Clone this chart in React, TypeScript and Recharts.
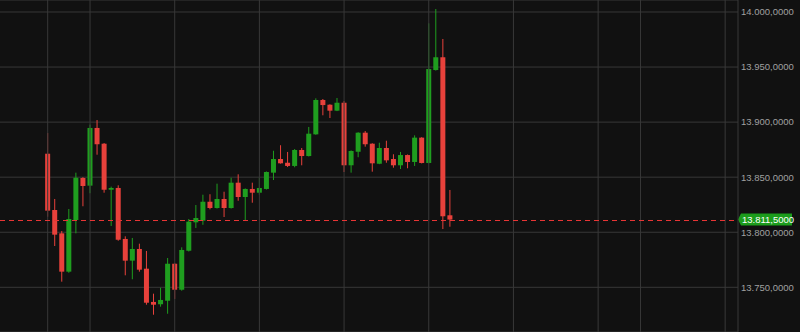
import React from "react";
import {
  ComposedChart,
  Bar,
  XAxis,
  YAxis,
  CartesianGrid,
  ReferenceLine,
} from "recharts";

// OHLC values per candle (index = candle number)
const opens = [
  13871.3, 13820.2, 13799.0, 13764.2, 13811.1, 13849.3, 13842.3, 13894.7, 13880.4, 13838.6,
  13840.2, 13793.9, 13774.2, 13784.8, 13766.9, 13736.7, 13734.6, 13737.8, 13771.4, 13747.8,
  13783.2, 13809.0, 13810.5, 13827.7, 13822.0, 13830.2, 13822.0, 13845.0, 13832.0, 13839.3,
  13835.9, 13839.3, 13854.1, 13866.5, 13863.1, 13860.2, 13874.7, 13869.2, 13888.9, 13920.1,
  13915.8, 13910.4, 13917.6, 13860.8, 13873.1, 13890.4, 13880.4, 13862.2, 13876.5, 13866.5,
  13860.8, 13870.1, 13863.8, 13885.9, 13862.9, 13947.3, 13958.9, 13815.4,
];
const highs = [
  13890.1, 13830.2, 13801.1, 13821.1, 13854.1, 13850.0, 13897.7, 13901.9, 13881.0, 13841.4,
  13842.6, 13796.3, 13794.8, 13789.6, 13783.0, 13744.2, 13749.6, 13776.6, 13772.0, 13786.3,
  13812.0, 13824.7, 13834.1, 13834.5, 13844.1, 13836.8, 13849.5, 13852.6, 13839.8, 13845.0,
  13849.5, 13855.2, 13874.0, 13879.0, 13872.9, 13875.6, 13876.5, 13895.6, 13921.6, 13921.0,
  13916.2, 13921.9, 13919.2, 13874.3, 13890.8, 13891.9, 13880.8, 13881.3, 13883.1, 13870.8,
  13872.9, 13870.6, 13888.0, 13886.3, 13989.7, 14002.7, 13975.5, 13838.4,
];
const lows = [
  13814.1, 13787.5, 13755.1, 13763.2, 13799.0, 13823.6, 13835.4, 13870.4, 13835.9, 13805.7,
  13792.3, 13760.9, 13757.3, 13764.2, 13734.2, 13725.1, 13732.4, 13726.0, 13739.4, 13746.9,
  13782.5, 13803.9, 13806.8, 13820.8, 13821.5, 13813.8, 13821.5, 13828.6, 13811.1, 13826.8,
  13834.1, 13838.8, 13847.4, 13862.3, 13859.2, 13859.0, 13860.8, 13868.8, 13888.5, 13906.2,
  13903.7, 13910.0, 13854.7, 13854.1, 13868.1, 13877.7, 13855.0, 13861.8, 13863.1, 13858.6,
  13857.4, 13858.1, 13860.2, 13862.5, 13862.5, 13946.8, 13802.9, 13805.0,
];
const closes = [
  13819.6, 13797.8, 13764.2, 13812.0, 13849.5, 13842.0, 13894.7, 13879.9, 13838.6, 13840.2,
  13793.2, 13774.2, 13784.8, 13766.0, 13736.0, 13734.2, 13738.5, 13771.4, 13747.8, 13783.9,
  13809.6, 13812.9, 13827.7, 13822.0, 13830.2, 13822.0, 13845.0, 13832.0, 13839.3, 13835.9,
  13840.2, 13854.7, 13866.5, 13862.6, 13860.2, 13874.7, 13869.2, 13889.5, 13920.1, 13915.5,
  13910.4, 13917.6, 13860.8, 13873.8, 13890.4, 13879.9, 13862.6, 13876.5, 13865.3, 13860.8,
  13870.1, 13863.8, 13885.9, 13862.9, 13948.2, 13958.9, 13814.5, 13811.5,
];

const lastPrice = 13811.5;
const priceTicks = [13750, 13800, 13850, 13900, 13950, 14000];
const timeGridTicks = [0, 6, 18, 30, 42, 54, 66, 78, 84, 96];
const timeDomain = [-6.756, 97.82];
const priceDomain = [13709.408, 14010.897];

const UP = "#1f9e1f";
const DOWN = "#e8413b";
const BG = "#111111";
const GRID = "#383838";
const DASH = "#e83535";
const FONT = "Liberation Sans, Arial, sans-serif";

const candles = opens.map((o, i) => ({
  i,
  open: o,
  high: highs[i],
  low: lows[i],
  close: closes[i],
  range: [lows[i], highs[i]],
}));

const fmt = (v: number) => {
  const fixed = Number(v).toFixed(4);
  const [intPart, dec] = fixed.split(".");
  const withDots = intPart.replace(/\B(?=(\d{3})+(?!\d))/g, ".");
  return `${withDots},${dec}`;
};

const Candle = (props: any) => {
  const { x, y, width, height, payload } = props;
  if (!payload || x == null || y == null) return null;
  const { open, close, high, low } = payload;
  const top = height >= 0 ? y : y + height;
  const h = Math.abs(height);
  const ratio = high - low > 0 ? h / (high - low) : 0;
  const yOf = (v: number) => top + (high - v) * ratio;
  const cx = x + width / 2;
  const up = close >= open;
  const color = up ? UP : DOWN;
  const bTop = yOf(Math.max(open, close));
  const bBot = yOf(Math.min(open, close));
  const bw = 5;
  return (
    <g>
      <line x1={cx} x2={cx} y1={top} y2={top + h} stroke={color} strokeWidth={1} />
      <rect
        x={cx - bw / 2}
        y={bTop}
        width={bw}
        height={Math.max(1.5, bBot - bTop)}
        fill={color}
      />
    </g>
  );
};

const EmptyShape = () => <g />;

const PriceLabel = (props: any) => {
  const vb = props.viewBox || {};
  const ly = vb.y;
  const lineY = Math.round(ly) + 0.5;
  const lx = vb.x + vb.width;
  const left = lx + 2;
  const right = left + 52;
  const h = 12;
  return (
    <g>
      <line
        x1={vb.x}
        x2={lx}
        y1={lineY}
        y2={lineY}
        stroke={DASH}
        strokeWidth={1}
        strokeDasharray="5 4"
        shapeRendering="crispEdges"
      />
      <path
        d={`M${left - 2},${ly} L${left + 1},${ly - h / 2} L${right},${ly - h / 2} L${right},${ly + h / 2} L${left + 1},${ly + h / 2} Z`}
        fill="#1c9c1c"
      />
      <text
        x={left + 2}
        y={ly}
        dy="0.35em"
        fill="#ffffff"
        fontSize={9.5}
        fontFamily={FONT}
      >
        {fmt(lastPrice)}
      </text>
    </g>
  );
};

export default function App() {
  return (
    <div style={{ position: "absolute", left: 0, top: 0, width: 800, height: 332, background: BG }}>
      <style>{`body{margin:0;background:${BG};}`}</style>
      <ComposedChart
        width={800}
        height={332}
        data={candles}
        margin={{ top: 0, right: 0, bottom: 0, left: 0 }}
        style={{ background: BG }}
      >
        <CartesianGrid stroke={GRID} strokeWidth={1} horizontal vertical={false} />
        <XAxis
          dataKey="i"
          type="number"
          domain={timeDomain}
          ticks={timeGridTicks}
          allowDataOverflow
          height={0}
          tick={false}
          tickLine={false}
          axisLine={false}
        />
        <YAxis
          orientation="right"
          type="number"
          domain={priceDomain}
          ticks={priceTicks}
          allowDataOverflow
          width={62}
          tickSize={0}
          tickMargin={3}
          tickLine={false}
          axisLine={{ stroke: GRID }}
          tick={{ fill: "#a0a0a0", fontSize: 9.5, fontFamily: FONT }}
          tickFormatter={fmt}
        />
        {timeGridTicks.map((t) => (
          <ReferenceLine key={`vg${t}`} x={t} stroke={GRID} strokeWidth={1} />
        ))}
        <Bar
          dataKey="range"
          barSize={5}
          shape={<Candle />}
          isAnimationActive={false}
        />
        <ReferenceLine
          y={lastPrice}
          stroke={BG}
          strokeOpacity={0}
          strokeWidth={0}
          shape={EmptyShape}
          label={<PriceLabel />}
        />
      </ComposedChart>
    </div>
  );
}
